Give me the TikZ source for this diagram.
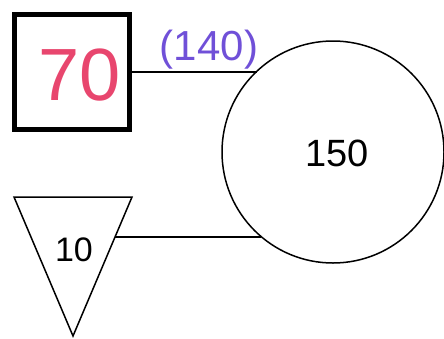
\documentclass[tikz,border=0pt]{standalone}
\usetikzlibrary{calc}
\usepackage{fontspec}
\setmainfont{Liberation Sans}
\definecolor{hwpink}{HTML}{E8466E}
\definecolor{hwpurple}{HTML}{7050D8}
\begin{document}
\begin{tikzpicture}[x=1pt,y=-1pt,
  box/.style={draw,line width=5pt,minimum size=115pt,inner sep=0pt},
  bigcirc/.style={draw,circle,line width=1.5pt,minimum size=222pt,inner sep=0pt},
  conn/.style={line width=1.5pt},
  lbl/.style={inner sep=0pt,font=\fontsize{38}{40}\selectfont}]
\useasboundingbox (0,0) rectangle (444,338);
\node[box] (sq) at (72,72) {};
\node[text=hwpink,inner sep=0pt,font=\fontsize{74}{76}\selectfont] (t70) at (80,75) {70};
\node[text=hwpurple,inner sep=0pt,font=\fontsize{42}{44}\selectfont] (t140) at (209,50) {(140)};
\node[bigcirc] (c) at (333,152) {};
\node[lbl] (t150) at (337,153) {150};
\coordinate (ta) at (14,197);
\coordinate (tb) at (132,197);
\coordinate (tc) at (73,336);
\draw[line width=1.5pt,line join=miter] (ta) -- (tb) -- (tc) -- cycle;
\coordinate (te) at ($(tb)!0.288!(tc)$);
\node[lbl,font=\fontsize{34}{36}\selectfont] (t10) at (74,250) {10};
\draw[conn] (sq.east) -- (sq.east -| c.133);
\draw[conn] (te) -- (te -| c.230);
\end{tikzpicture}
\end{document}
